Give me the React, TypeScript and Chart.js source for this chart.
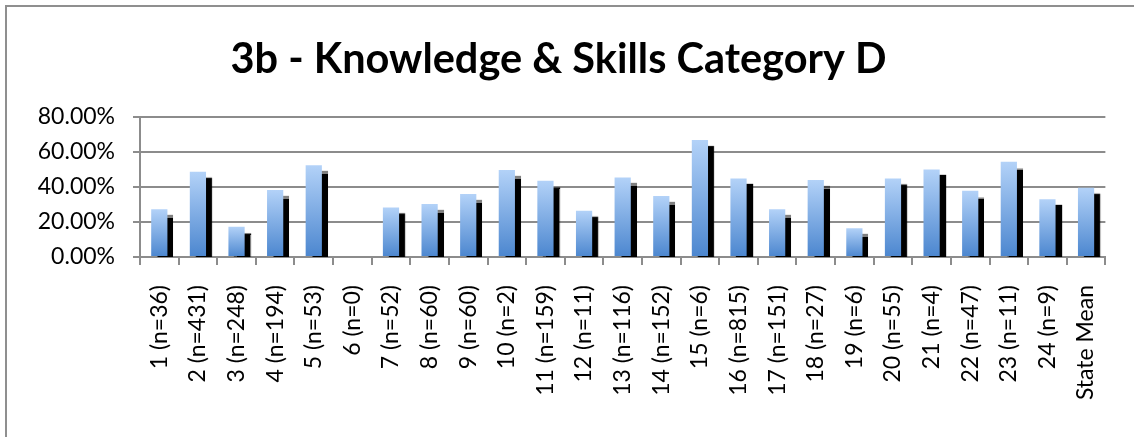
import React, { useEffect, useRef } from "react";
import { Chart, registerables } from "chart.js";

Chart.register(...registerables);

const TITLE = "3b - Knowledge & Skills Category D";
const CATEGORIES = [
  "1 (n=36)", "2 (n=431)", "3 (n=248)", "4 (n=194)", "5 (n=53)", "6 (n=0)",
  "7 (n=52)", "8 (n=60)", "9 (n=60)", "10 (n=2)", "11 (n=159)", "12 (n=11)",
  "13 (n=116)", "14 (n=152)", "15 (n=6)", "16 (n=815)", "17 (n=151)", "18 (n=27)",
  "19 (n=6)", "20 (n=55)", "21 (n=4)", "22 (n=47)", "23 (n=11)", "24 (n=9)", "State Mean",
];
const VALUES = [
  27.2, 48.6, 17.3, 38.2, 52.4, 0, 28.3, 30.2, 35.9, 49.6, 43.5, 26.4,
  45.4, 34.8, 66.7, 44.8, 27.2, 43.9, 16.4, 44.8, 50.0, 37.8, 54.3, 32.9, 39.5,
];
const Y_MIN = 0;
const Y_MAX = 80;
const Y_STEP = 20;

const FONT = "Lato, 'Open Sans', sans-serif";
const GRID = "#8c8c8c";

const shadowPlugin = {
  id: "barShadow",
  beforeDatasetDraw(chart: any) {
    const ctx = chart.ctx;
    ctx.save();
    ctx.shadowColor = "rgba(0,0,0,1)";
    ctx.shadowOffsetX = 6;
    ctx.shadowOffsetY = 6;
    ctx.shadowBlur = 1;
  },
  afterDatasetDraw(chart: any) {
    chart.ctx.restore();
  },
};

export default function App() {
  const ref = useRef<HTMLCanvasElement | null>(null);
  useEffect(() => {
    if (!ref.current) return;
    const chart = new Chart(ref.current, {
      type: "bar",
      data: {
        labels: CATEGORIES,
        datasets: [
          {
            data: VALUES,
            borderWidth: 0,
            categoryPercentage: 1,
            barPercentage: 0.42,
            clip: { left: 0, top: 0, right: 12, bottom: 0 } as any,
            backgroundColor: (c: any) => {
              const chart = c.chart;
              const y = chart.scales?.y;
              if (!y || c.parsed == null) return "#6a9ee0";
              const top = y.getPixelForValue(c.parsed.y);
              const bottom = y.getPixelForValue(0);
              if (!isFinite(top) || !isFinite(bottom) || top === bottom) return "#6a9ee0";
              const g = chart.ctx.createLinearGradient(0, top, 0, bottom);
              g.addColorStop(0, "#b3d2f8");
              g.addColorStop(1, "#4b86cf");
              return g;
            },
          },
        ],
      },
      options: {
        responsive: false,
        animation: false,
        layout: { padding: { left: 0, right: 17, top: 0, bottom: 0 } },
        plugins: {
          legend: { display: false },
          tooltip: { enabled: false },
          title: {
            display: true,
            text: TITLE,
            color: "#000",
            font: { family: FONT, size: 41.5, weight: "bold", lineHeight: 1.2 },
            padding: { top: 35, bottom: 32 },
          },
        },
        scales: {
          x: {
            offset: true,
            grid: {
              drawOnChartArea: false,
              drawTicks: true,
              tickLength: 8,
              color: GRID,
              lineWidth: 2,
              offset: true,
            },
            border: { display: true, color: GRID, width: 2 },
            ticks: {
              autoSkip: false,
              minRotation: 90,
              maxRotation: 90,
              padding: 20,
              color: "#000",
              font: { family: FONT, size: 23 },
            },
            afterFit: (s: any) => {
              s.height = 180;
            },
          },
          y: {
            min: Y_MIN,
            max: Y_MAX,
            grid: { color: GRID, lineWidth: 2, tickLength: 7, drawTicks: true },
            border: { display: true, color: GRID, width: 2 },
            ticks: {
              stepSize: Y_STEP,
              padding: 18,
              color: "#000",
              font: { family: FONT, size: 23 },
              callback: (v: any) => Number(v).toFixed(2) + "%",
            },
            afterFit: (s: any) => {
              s.width = 140;
            },
          },
        },
      },
      plugins: [shadowPlugin],
    });
    return () => chart.destroy();
  }, []);

  return (
    <>
      <div
        style={{
          position: "fixed",
          left: 5,
          top: 5,
          width: 1300,
          height: 600,
          border: "2px solid #8f8f8f",
          boxSizing: "border-box",
        }}
      />
      <div style={{ position: "fixed", left: 0, top: 0, width: 1134, height: 437 }}>
        <canvas ref={ref} width={1134} height={437} />
      </div>
    </>
  );
}
